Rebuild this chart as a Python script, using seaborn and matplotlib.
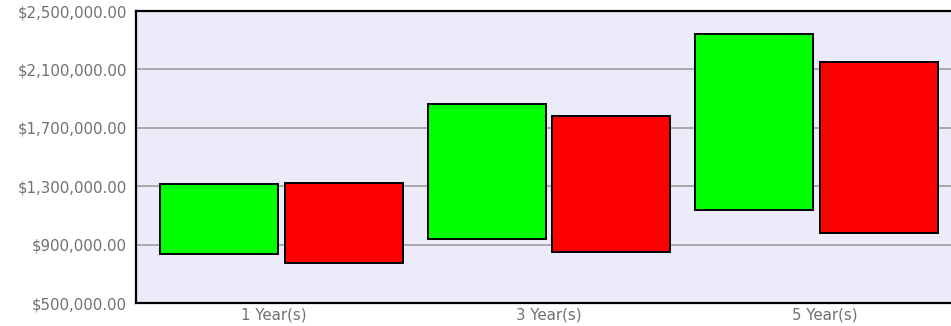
import matplotlib
matplotlib.use("Agg")
import matplotlib.pyplot as plt
import seaborn as sns
import pandas as pd
from matplotlib.ticker import FuncFormatter

# Value ranges per holding period (low / high)
periods = ["1 Year(s)", "3 Year(s)", "5 Year(s)"]
series_names = ["Upper", "Lower"]
upper_low = [834000, 941000, 1135000]
upper_high = [1316000, 1860000, 2345000]
lower_low = [774000, 848000, 980000]
lower_high = [1325000, 1780000, 2150000]
y_ticks = [500000, 900000, 1300000, 1700000, 2100000, 2500000]

colors = ["#00FF00", "#FF0000"]

rows = []
for name, lows, highs in [(series_names[0], upper_low, upper_high),
                          (series_names[1], lower_low, lower_high)]:
    for p, lo, hi in zip(periods, lows, highs):
        rows.append({"period": p, "series": name, "low": lo, "high": hi,
                     "span": hi - lo})
df = pd.DataFrame(rows)

sns.set_theme(style="white")
plt.rcParams["font.family"] = ["DejaVu Sans"]

fig = plt.figure(figsize=(9.51, 3.26), dpi=100)
ax = fig.add_axes([136 / 951, 23 / 326, 826 / 951, 292 / 326])
ax.set_facecolor("#EBEBFA")

sns.barplot(data=df, x="period", y="span", hue="series",
            order=periods, hue_order=series_names, palette=colors,
            width=0.93, gap=0.05, edgecolor="black", linewidth=1.4,
            errorbar=None, legend=False, saturation=1, ax=ax)

# Float each bar so it spans from its low value to its high value
lows_by_series = {series_names[0]: upper_low, series_names[1]: lower_low}
for container, name in zip(ax.containers, series_names):
    for bar, lo in zip(container, lows_by_series[name]):
        bar.set_y(lo)

ax.set_xlim(-0.544, 2.544)
# category labels are spread slightly wider than the bar groups
ax.set_xticks([i + 0.03 * (i - 1) for i in range(len(periods))])
ax.set_xticklabels(periods)
ax.set_ylim(y_ticks[0], y_ticks[-1])
ax.set_yticks(y_ticks)
ax.yaxis.set_major_formatter(FuncFormatter(lambda v, _: f"${v:,.2f}"))
ax.yaxis.grid(True, color="#A4A4A4", linewidth=1.3)
ax.xaxis.grid(False)
ax.set_axisbelow(True)

ax.set_xlabel("")
ax.set_ylabel("")
ax.tick_params(axis="both", length=0, labelsize=10.8, labelcolor="#707070")
ax.tick_params(axis="y", pad=6.5)
ax.tick_params(axis="x", pad=3.5)

for side in ["left", "top", "bottom"]:
    ax.spines[side].set_visible(True)
    ax.spines[side].set_color("black")
    ax.spines[side].set_linewidth(1.6)
ax.spines["right"].set_visible(False)

fig.savefig("out.png", dpi=100)
